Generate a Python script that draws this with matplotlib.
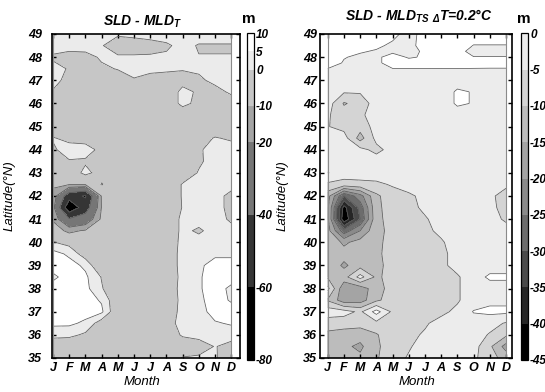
import numpy as np
import matplotlib
matplotlib.use("Agg")
import matplotlib.pyplot as plt
import matplotlib as mpl
from matplotlib.colors import ListedColormap, BoundaryNorm

plt.rcParams['font.family'] = ['Liberation Sans', 'DejaVu Sans']
plt.rcParams['font.weight'] = 'bold'
plt.rcParams['font.style'] = 'italic'
plt.rcParams['mathtext.fontset'] = 'custom'
plt.rcParams['mathtext.rm'] = 'Liberation Sans:bold:italic'
plt.rcParams['mathtext.it'] = 'Liberation Sans:bold:italic'
plt.rcParams['mathtext.bf'] = 'Liberation Sans:bold:italic'
plt.rcParams['contour.negative_linestyle'] = 'solid'

month_labels = ['J', 'F', 'M', 'A', 'M', 'J', 'J', 'A', 'S', 'O', 'N', 'D']
months = np.arange(1, 13)

# ---- Left panel: SLD - MLD_T (m), rows from 49N down to 35N ----
lat_left = [49.0, 48.5, 48.0, 47.5, 47.0, 46.5, 46.0, 45.5, 45.0, 44.5, 44.0,
            43.5, 43.0, 42.5, 42.0, 41.5, 41.0, 40.5, 40.0, 39.5, 39.0, 38.5,
            38.0, 37.5, 37.0, 36.5, 36.0, 35.5, 35.0]
sld_mld_t = [
    [3, 3, 3, 3, 1, 2, 3, 3, 3, 3, 3, 3],
    [3, 2, 2.5, 0.5, -4, -4, -3, -1, 2, -0.5, -0.5, -0.5],
    [-1, -2, -2, 0.8, 1, 1, 1, 1, 1.5, 0.2, 0.2, 0.2],
    [2, -0.5, -5, -1, 0.3, 2, 1, 0.8, 0.5, 1, 2.5, 2.5],
    [2, -2, -5, -5, -3, -0.5, -1.5, -2, -2.5, -1.1, 1.5, 2.5],
    [-0.5, -4, -5, -5, -5, -5, -5, -5, 2, -1, -2, 1],
    [-5, -5, -5, -5, -5, -5, -5, -5, 2, -2, -5, -3],
    [-5, -5, -5, -5, -5, -5, -5, -5, -5, -5, -5, -5],
    [-5, -5, -5, -5, -5, -5, -5, -5, -5, -5, -5, -3],
    [0.5, -2, -3, -5, -5, -5, -5, -5, -5, -3, 0.5, -1],
    [-1, 3, 3, -2, -5, -5, -5, -5, -5, -1, 3, 3],
    [-5, -0.5, -1, -5, -5, -5, -5, -5, -5, -1, 2.5, 2.5],
    [-5, -5, 2, -3, -5, -5, -5, -5, -4, 0.5, 3, 3],
    [-9, -9.5, -9.5, 0.5, -5, -5, -5, -5, 0.5, 2.5, 2.5, 2.5],
    [-12, -52, -62, -9, -5, -5, -5, -5, 0.5, 2.5, 2.5, -2],
    [-15, -75, -50, -9.5, -5, -5, -5, -5, 0.3, 2.5, 2.5, -2],
    [-11, -38, -30, -8, -5, -5, -5, -5, 1.5, 2.5, 2.5, -1],
    [-6, -12, -9, -5, -5, -5, -5, -5, 1.5, -1, 2.5, 2],
    [0.3, -2, -5, -5, -5, -5, -5, -5, 2, 2.5, 2.5, 2.5],
    [7, 4, -3, -5, -5, -5, -5, -5, 2.5, 2.5, 4, 4],
    [7, 7, 4, -6, -5, -5, -5, -5, 2.5, 4, 7, 7],
    [4, 7, 6, -0.3, -5, -5, -5, -5, 2, 4.5, 7, 7],
    [7, 7, 6.5, 0.5, -5, -5, -5, -5, 2.5, 4.5, 7, 4],
    [7, 7, 7, 4.5, -5, -5, -5, -5, 2, 4, 7, 4.5],
    [7, 7, 7, 6, -5, -5, -5, -5, 2.5, 3, 7, 7],
    [6, 6, 4, -3, -5, -5, -5, -3, 2.5, 2.5, 4.5, 5.5],
    [2, 1.5, -1, -5, -5, -5, -5, -5, 1, 2, 2.5, 2.5],
    [-5, -5, -5, -5, -5, -5, -5, -5, -5, -3, 0.3, -2],
    [-5, -5, -5, -5, -5, -5, -5, -5, 0.5, 1, 0.5, -3],
]
levels_left = [-80, -60, -40, -20, -10, 0, 5, 10]
colors_left = ['#000000', '#353535', '#767676', '#a4a4a4', '#c6c6c6', '#ebebeb', '#ffffff']

# ---- Right panel: SLD - MLD_TS (dT=0.2C) (m), rows from 49N down to 35N ----
lat_right = [49.0, 48.5, 48.25, 48.0, 47.75, 47.5, 47.0, 46.5, 46.0, 45.5, 45.0,
             44.5, 44.0, 43.5, 43.0, 42.5, 42.0, 41.5, 41.0, 40.5, 40.0, 39.5,
             39.0, 38.5, 38.0, 37.5, 37.0, 36.5, 36.0, 35.5, 35.0]
sld_mld_ts = [
    [3, 3, 3, 3, 1.5, -2, 2, 3, 3, 3, 3, 3],
    [3, 3, 3, 1, -1, -1.5, 2, 3, 3, -0.2, -0.2, -0.2],
    [3, 3, 0.5, -0.5, -1, -1, 0.5, 3, 2, -2, -2, -2],
    [3, 0.3, -1, -1, 2, -0.5, 0.5, 3, 3, 0.2, 0.2, 0.2],
    [3, -0.5, -1, -1, 2, 2, 2, 3, 3, 3, 3, 3],
    [-0.1, -1.5, -1.5, -1.5, -0.1, -0.1, -0.1, -0.1, -0.1, -0.2, -0.3, -0.3],
    [-2.5, -2.5, -2.5, -2.5, -2.5, -2.5, -2.5, -2.5, -2.5, -2.5, -2.5, -2.5],
    [-2.5, -4.5, -4.5, -2.5, -2.5, -2.5, -2.5, -3, 0.8, -0.3, -2.5, -2.5],
    [-2.5, -10.5, -8, -2.5, -2.5, -2.5, -2.5, -3, 0.8, -0.3, -2.5, -2.5],
    [-4.5, -7.5, -6, -2.5, -2.5, -2.5, -2.5, -2.5, -2.5, -2.5, -2.5, -2.5],
    [-4.8, -6.5, -8, -3, -2.5, -2.5, -2.5, -2.5, -2.5, -2.5, -2.5, -2.5],
    [-2.5, -3, -12, -3.5, -2.5, -2.5, -2.5, -2.5, -2.5, -2.5, -2.5, -2.5],
    [-2.5, -2.5, -3.5, -6.5, -3, -2.5, -2.5, -2.5, -2.5, -2.5, -2.5, -2.5],
    [-2.5, -2.5, -2.5, -2.5, -2.5, -2.5, -2.5, -2.5, -2.5, -2.5, -2.5, -2.5],
    [0.2, -2.5, -2.5, -2.5, -2.5, -2.5, -2.5, -2.5, -2.5, -2.5, -2.5, -2.5],
    [-6, -7, -6.5, -6, -4.5, -2.5, -2.5, -2.5, -2.5, -2.5, -3, -4],
    [-13, -30, -22, -11, -7, -6, -3.5, -2.5, -2.5, -2.5, -4, -7],
    [-14, -42, -28, -11, -8, -6.5, -4, -2.5, -2.5, -2.5, -3.5, -7],
    [-14, -44, -30, -11, -8.5, -7, -5.5, -3, -2.5, -2.5, -2.5, -6],
    [-13, -28, -20, -11, -9, -7, -6, -4, -2.5, -2.5, -2.5, -2.5],
    [-11, -16, -13, -11, -8.5, -7, -6.5, -5.5, -3, -2.5, -2.5, -2.5],
    [-11, -13, -12, -11, -8, -7, -7, -6, -3.5, -2.5, -2.5, -2.5],
    [-11, -16, -12, -11.5, -8, -7.5, -7, -6, -3.5, -2.5, -2.5, -2.5],
    [-10.5, -12, -3, -11, -8, -7.5, -7, -6.5, -5.5, -2.5, 1, 1],
    [-3.5, -19, -18, -12, -8, -7.5, -7, -6.5, -5.5, -2.5, -2.5, -2.5],
    [-10.5, -18, -17.5, -11, -7.5, -7, -7, -6.5, -5.5, -2.5, -1, -1],
    [-2, -3, -6, 2, -6, -6.5, -6.5, -6, -4, 0.3, 1, 1],
    [-8, -8, -8, -6.5, -6, -6, -5.5, -3.5, -2.5, -2.5, -3, -5.5],
    [-11, -12, -13, -10.5, -6.5, -6, -4.5, -2.5, -2.5, -2.5, -5.5, -9],
    [-12, -14, -16, -11, -7, -5.5, -3, -2.5, -2.5, -3, -9, -17],
    [-11, -13, -14, -10.5, -7, -4.5, -2.5, -2.5, -2.5, -4, -8, -12],
]
levels_right = [-45, -40, -35, -30, -25, -20, -15, -10, -5, 0]
colors_right = ['#000000', '#262626', '#4a4a4a', '#6c6c6c', '#8a8a8a',
                '#a4a4a4', '#bcbcbc', '#d4d4d4', '#ececec']

W, H = 545.0, 392.0
fig = plt.figure(figsize=(W / 100, H / 100), dpi=100)


def fr(x0, y0, x1, y1):
    return [x0 / W, 1 - y1 / H, (x1 - x0) / W, (y1 - y0) / H]


ax1 = fig.add_axes(fr(51.5, 34, 240, 358))
ax2 = fig.add_axes(fr(319.5, 34, 512, 358))
cax1 = fig.add_axes(fr(247, 33.3, 254, 360))
cax2 = fig.add_axes(fr(521, 33.3, 528, 360))

line_col = '#5a5a5a'


def draw_panel(ax, lats, data, line_levels, fill_levels, fill_colors, xlim):
    Z = np.array(data, dtype=float)
    Y = np.array(lats, dtype=float)
    ax.contourf(months, Y, Z, levels=fill_levels, colors=fill_colors)
    ax.contour(months, Y, Z, levels=line_levels, colors=line_col,
               linewidths=0.55, linestyles='solid')
    ax.plot([1, 1], [35, 49], color='#8a8a8a', lw=0.8)
    ax.plot([12, 12], [35, 49], color='#8a8a8a', lw=0.8)
    ax.set_xlim(*xlim)
    ax.set_ylim(35, 49)
    ax.set_xticks(months)
    ax.set_xticklabels(month_labels, fontsize=9)
    ax.set_yticks(np.arange(35, 50, 1))
    ax.tick_params(direction='in', top=True, right=True, length=3, width=1,
                   labelsize=9)
    ax.tick_params(axis='x', pad=3)
    for s in ax.spines.values():
        s.set_linewidth(1.2)
    ax.set_xlabel('Month', fontsize=9.5, labelpad=0)


draw_panel(ax1, lat_left, sld_mld_t, levels_left[1:-1],
           levels_left, colors_left, (0.91, 12.54))
draw_panel(ax2, lat_right, sld_mld_ts, levels_right[1:],
           levels_right + [50], colors_right + ['#ffffff'], (0.49, 12.37))

ax1.tick_params(axis='y', pad=7)
ax2.tick_params(axis='y', pad=2)
ax1.set_ylabel('Latitude(°N)', fontsize=9.5)
ax2.set_ylabel('Latitude(°N)', fontsize=9.5)
ax1.yaxis.set_label_coords((16 - 51.5) / 188.5, 0.5)
ax2.yaxis.set_label_coords((289 - 319.5) / 192.5, 0.5)
ax1.xaxis.set_label_coords((142 - 51.5) / 188.5, (358 - 376) / 324)
ax2.xaxis.set_label_coords((417 - 319.5) / 192.5, (358 - 376) / 324)


def draw_cbar(cax, levels, colors):
    cmap = ListedColormap(colors)
    norm = BoundaryNorm(levels, cmap.N)
    cb = mpl.colorbar.ColorbarBase(cax, cmap=cmap, norm=norm,
                                   spacing='proportional', ticks=levels)
    cb.ax.set_yticklabels([str(v) for v in levels])
    cb.ax.tick_params(length=0, pad=1.5, labelsize=8.5)
    cb.outline.set_linewidth(0.9)
    return cb


draw_cbar(cax1, levels_left, colors_left)
draw_cbar(cax2, levels_right, colors_right)

fig.text(142 / W, 1 - 26 / H, 'SLD - MLD${}_{T}$', ha='center', va='baseline',
         fontsize=10)
fig.text(419 / W, 1 - 21 / H, 'SLD - MLD${}_{TS}$ ${}_{\\Delta}$T=0.2°C',
         ha='center', va='baseline', fontsize=10)
fig.text(249 / W, 1 - 23 / H, 'm', ha='center', va='baseline', fontsize=11,
         style='normal')
fig.text(524 / W, 1 - 23 / H, 'm', ha='center', va='baseline', fontsize=11,
         style='normal')

fig.savefig('out.png', dpi=100)
